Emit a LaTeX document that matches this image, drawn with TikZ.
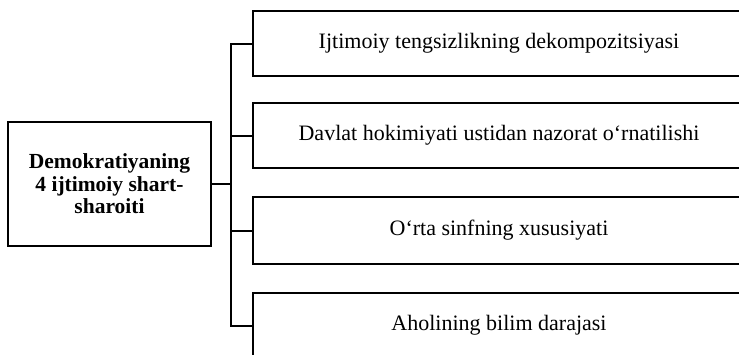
\documentclass[tikz,border=0pt]{standalone}
\usepackage{fontspec}
\setmainfont{Liberation Serif}
\begin{document}
\begin{tikzpicture}[x=1pt,y=-1pt,
  wire/.style={line width=2pt},
  leftbox/.style={draw, line width=2pt, minimum width=203pt, minimum height=124pt,
    align=center, inner sep=0pt, font=\bfseries\fontsize{21.5}{22.5}\selectfont},
  rightbox/.style={draw, line width=2pt, minimum width=492pt, minimum height=65pt,
    inner sep=0pt, font=\fontsize{22}{26}\selectfont}]
\useasboundingbox (0,0) rectangle (739,354);
\clip (0,0) rectangle (739,354);
\node[leftbox] (main) at (109.5,184) {Demokratiyaning\\4 ijtimoiy shart-\\sharoiti};
\node[rightbox] (b1) at (499,43.5) {Ijtimoiy tengsizlikning dekompozitsiyasi};
\node[rightbox] (b2) at (499,135.5) {Davlat hokimiyati ustidan nazorat o‘rnatilishi};
\node[rightbox, minimum height=67pt] (b3) at (499,230.5) {O‘rta sinfning xususiyati};
\node[rightbox] (b4) at (499,325.5) {Aholining bilim darajasi};
\coordinate (bus) at (231,184);
\draw[wire] (main.east) -- (bus);
\draw[wire] (b1.west) -- (b1.west -| bus) -- (b4.west -| bus) -- (b4.west);
\draw[wire] (b2.west) -- (b2.west -| bus);
\draw[wire] (b3.west) -- (b3.west -| bus);
\end{tikzpicture}
\end{document}
